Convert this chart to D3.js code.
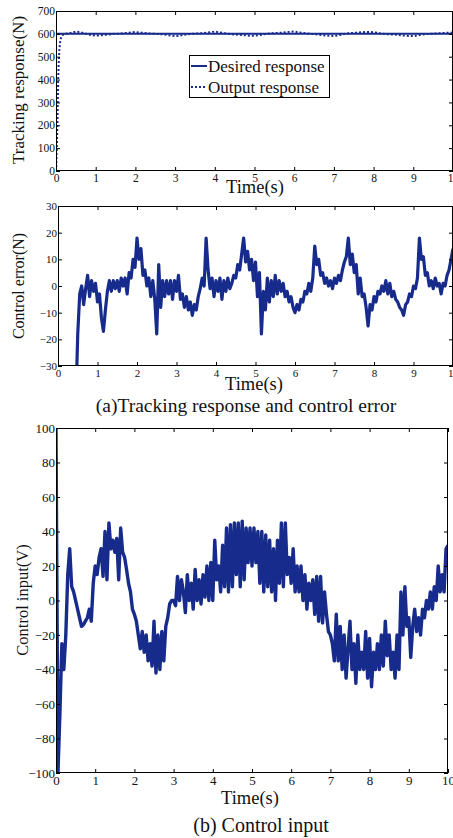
<!DOCTYPE html>
<html>
<head>
<meta charset="utf-8">
<script src="https://cdn.jsdelivr.net/npm/d3@7"></script>
<style>
  body { margin: 0; background: #fff; }
  svg { display: block; }
  text { font-family: "Liberation Serif", serif; fill: #111; }
</style>
</head>
<body>
<svg id="fig" width="453" height="838"></svg>
<script>
// ---- data ----
const timeTicks = [0, 1, 2, 3, 4, 5, 6, 7, 8, 9, 10];
const forceTicks = [0, 100, 200, 300, 400, 500, 600, 700];
const errorTicks = [-30, -20, -10, 0, 10, 20, 30];
const inputTicks = [-100, -80, -60, -40, -20, 0, 20, 40, 60, 80, 100];

const desiredForce = 600;

// output force during the initial rise (s, N)
const riseTimes  = [0, 0.02, 0.035, 0.045, 0.055, 0.07, 0.085, 0.1, 0.13, 0.17, 0.2];
const riseValues = [0, 100, 200, 300, 400, 480, 530, 560, 585, 595, 600];

// output force after the rise, sampled every 0.1 s from 0.3 s
const rippleStart = 0.3, rippleStep = 0.1;
const rippleValues = [
  602,605,610,608,603,598,594,592,593,595,
  597,599,601,601,603,604,606,608,606,604,
  602,601,600,599,598,595,592,590,592,595,
  598,600,601,602,603,605,608,610,607,604,
  601,599,597,596,595,593,592,592,594,597,
  600,602,603,604,605,607,609,610,607,604,
  602,600,599,597,595,593,592,591,593,597,
  601,603,604,605,607,608,608,607,604,601,
  599,598,597,596,594,592,591,590,593,596,
  599,600,601,602,603,604,605,606
];

// control error (N), sampled every 0.05 s from 0.45 s
const errorStart = 0.45, errorStep = 0.05;
const errorValues = [
  -45,-18,-3,0,-7,-1,4,-4,2,-2,
  1,-6,-3,-12,-17,-9,-2,2,-2,2,
  -1,2,-2,3,0,3,-3,5,3,10,
  7,18,10,14,4,6,0,3,-4,2,
  -5,-18,8,-8,2,-4,2,-3,2,-5,
  2,-2,4,-5,-3,-8,-4,-9,-6,-11,
  -7,-9,-4,-1,3,0,18,6,-1,3,
  -4,2,-2,3,-5,2,-2,3,-1,1,
  4,3,8,6,12,18,9,13,6,10,
  2,9,-4,5,-18,-2,-9,3,-6,2,
  -4,4,-3,2,-2,1,-4,-2,-6,-4,
  -8,-10,-7,-9,-5,-6,-2,-3,1,-2,
  3,15,8,10,4,5,1,3,0,2,
  -1,3,1,4,2,6,9,11,18,8,
  12,5,8,-3,3,-4,-3,-8,-15,-7,
  -9,-4,-6,-2,-3,0,-2,2,-3,1,
  -4,-2,-5,-6,-8,-9,-11,-7,-6,-3,
  -4,0,-1,3,18,10,11,4,5,0,
  2,-1,3,0,1,-3,1,0,4,6,
  10,14
];

// control input (V), sampled every 0.05 s from 0 s
const inputStart = 0, inputStep = 0.05;
const inputValues = [
  100,-100,-65,-25,-40,-20,15,30,8,5,
  0,-5,-10,-15,-14,-12,-10,-5,-12,10,
  20,15,25,30,14,40,12,45,30,35,
  28,36,12,42,28,25,18,10,5,-5,
  -8,-12,-20,-28,-18,-30,-20,-35,-25,-38,
  -12,-42,-20,-40,-18,-35,-15,-10,-2,0,
  0,-3,14,0,12,5,-7,15,0,10,
  -5,18,0,12,-2,15,2,20,0,22,
  0,35,12,20,5,32,8,42,5,44,
  8,45,15,45,8,46,12,42,22,42,
  20,42,22,40,10,40,5,38,8,35,
  5,30,0,35,10,45,8,45,15,25,
  10,30,5,20,5,20,0,15,-5,10,
  0,12,-8,14,-12,14,-13,5,-8,-18,
  -20,-25,-35,-8,-35,-15,-40,-20,-45,-28,
  -12,-40,-25,-48,-20,-40,-30,-40,-18,-45,
  -22,-50,-30,-40,-25,-40,-20,-38,-12,-32,
  -20,-40,-30,-45,-20,-40,5,-20,8,-15,
  -10,-33,-15,-5,-18,-10,-20,-5,-10,0,
  -5,5,-5,8,0,20,5,15,5,30,
  32
];

// ---- drawing ----
const lineColor = "#172b8c";
const svg = d3.select("#fig");
const sampled = (start, step, vals) => vals.map((v, i) => [start + i * step, v]);

function panel(id, box, yDomain, yTicks, tickFont) {
  const x = d3.scaleLinear().domain([0, 10]).range([box.left, box.right]);
  const y = d3.scaleLinear().domain(yDomain).range([box.bottom, box.top]);
  const g = svg.append("g");

  g.append("clipPath").attr("id", id).append("rect")
    .attr("x", box.left).attr("y", box.top)
    .attr("width", box.right - box.left).attr("height", box.bottom - box.top);

  const plot = g.append("g").attr("clip-path", `url(#${id})`);

  const styleAxis = sel => {
    sel.attr("font-family", null);
    sel.select(".domain").remove();
    sel.selectAll("line").attr("stroke", "#000").attr("stroke-width", 1);
    sel.selectAll("text").style("font-size", tickFont + "px").attr("fill", "#111");
  };
  g.append("g").attr("transform", `translate(0,${box.bottom})`)
    .call(d3.axisBottom(x).tickValues(timeTicks).tickSize(-4).tickPadding(3).tickFormat(d3.format("d")))
    .call(styleAxis);
  g.append("g").attr("transform", `translate(0,${box.top})`)
    .call(d3.axisTop(x).tickValues(timeTicks).tickSize(-4).tickFormat(""))
    .call(styleAxis);
  g.append("g").attr("transform", `translate(${box.left},0)`)
    .call(d3.axisLeft(y).tickValues(yTicks).tickSize(-4).tickPadding(1).tickFormat(d3.format("d")))
    .call(styleAxis);
  g.append("g").attr("transform", `translate(${box.right},0)`)
    .call(d3.axisRight(y).tickValues(yTicks).tickSize(-4).tickFormat(""))
    .call(styleAxis);

  g.append("rect")
    .attr("x", box.left + 0.5).attr("y", box.top + 0.5)
    .attr("width", box.right - box.left - 1).attr("height", box.bottom - box.top - 1)
    .attr("fill", "none").attr("stroke", "#000").attr("stroke-width", 1);

  return { x, y, plot, g };
}

function label(txt, xPos, yPos, size, rotate) {
  const t = svg.append("text").text(txt).attr("text-anchor", "middle")
    .style("font-size", size + "px");
  if (rotate) t.attr("transform", `translate(${xPos},${yPos}) rotate(-90)`);
  else t.attr("x", xPos).attr("y", yPos);
  return t;
}

// (a) top: tracking response
{
  const p = panel("clipA1", { left: 56, right: 453, top: 11, bottom: 171 }, [0, 700], forceTicks, 11.5);
  const line = d3.line().x(d => p.x(d[0])).y(d => p.y(d[1]));
  p.plot.append("path")
    .datum([[0, desiredForce], [10, desiredForce]])
    .attr("d", line).attr("fill", "none").attr("stroke", lineColor).attr("stroke-width", 2);
  const out = riseTimes.map((t, i) => [t, riseValues[i]])
    .concat(sampled(rippleStart, rippleStep, rippleValues));
  p.plot.append("path").datum(out)
    .attr("d", line).attr("fill", "none").attr("stroke", lineColor)
    .attr("stroke-width", 2).attr("stroke-dasharray", "2,2");

  label("Tracking response(N)", 24, 90, 17, true);
  label("Time(s)", 255, 193, 18.5);

  // legend
  const lg = svg.append("g");
  lg.append("rect").attr("x", 189.5).attr("y", 55.5).attr("width", 140).attr("height", 42)
    .attr("fill", "#fff").attr("stroke", "#000").attr("stroke-width", 1);
  lg.append("line").attr("x1", 191).attr("x2", 207).attr("y1", 66).attr("y2", 66)
    .attr("stroke", lineColor).attr("stroke-width", 2);
  lg.append("line").attr("x1", 191).attr("x2", 207).attr("y1", 87).attr("y2", 87)
    .attr("stroke", lineColor).attr("stroke-width", 2).attr("stroke-dasharray", "2,2");
  lg.append("text").text("Desired response").attr("x", 208).attr("y", 72).style("font-size", "17px");
  lg.append("text").text("Output response").attr("x", 208).attr("y", 93).style("font-size", "17px");
}

// (a) bottom: control error
{
  const p = panel("clipA2", { left: 58, right: 453, top: 206, bottom: 366 }, [-30, 30], errorTicks, 11);
  const line = d3.line().x(d => p.x(d[0])).y(d => p.y(d[1]));
  p.plot.append("path").datum(sampled(errorStart, errorStep, errorValues))
    .attr("d", line).attr("fill", "none").attr("stroke", lineColor)
    .attr("stroke-width", 3.2).attr("stroke-linejoin", "round");
  label("Control error(N)", 24, 286, 16, true);
  label("Time(s)", 254, 390, 18.5);
  label("(a)Tracking response and control error", 246, 412, 19.5);
}

// (b) control input
{
  const p = panel("clipB", { left: 56, right: 448, top: 428, bottom: 773 }, [-100, 100], inputTicks, 13);
  const line = d3.line().x(d => p.x(d[0])).y(d => p.y(d[1]));
  p.plot.append("path").datum(sampled(inputStart, inputStep, inputValues))
    .attr("d", line).attr("fill", "none").attr("stroke", lineColor)
    .attr("stroke-width", 3.4).attr("stroke-linejoin", "round");
  label("Control input(V)", 28, 600, 16.5, true);
  label("Time(s)", 250, 804, 18.5);
  label("(b) Control input", 261, 832, 20);
}
</script>
</body>
</html>
